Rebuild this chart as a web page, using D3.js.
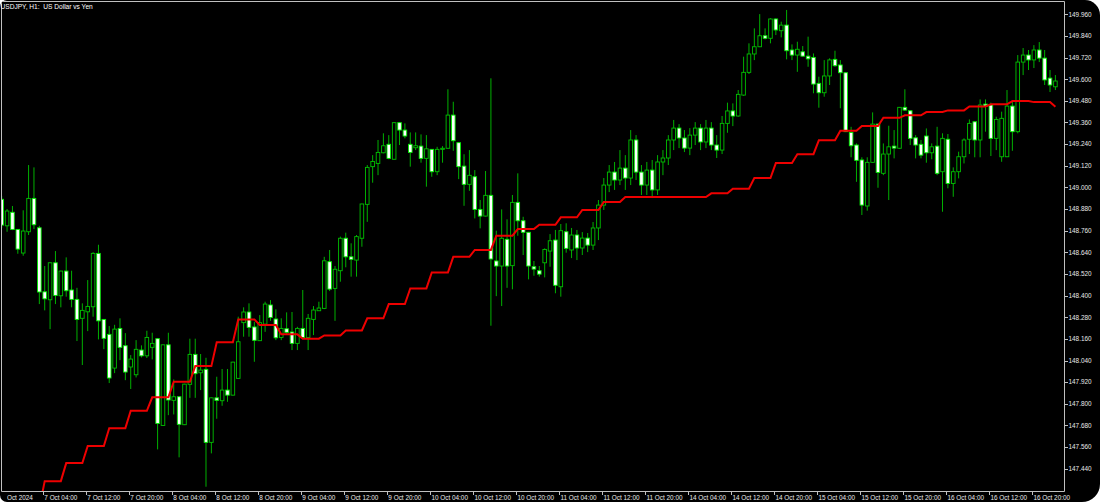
<!DOCTYPE html>
<html><head><meta charset="utf-8">
<script src="https://cdn.jsdelivr.net/npm/d3@7"></script>
<style>html,body{margin:0;padding:0;background:#fff;}svg{display:block}</style>
</head><body>
<svg id="c" width="1100" height="502"></svg>
<script>
// ---- data (USDJPY H1), bar 0 = 4 Oct 20:00 ----
const openP = [
148.934,148.787,148.862,148.767,148.636,148.754,148.939,148.776,148.421,148.377,
148.582,148.399,148.536,148.431,148.379,148.274,148.310,148.338,148.634,148.268,
148.185,147.998,148.218,148.122,148.004,147.961,148.098,148.066,148.113,148.161,
147.680,148.127,147.819,147.839,147.684,147.908,148.074,147.972,147.991,147.586,
147.833,147.817,147.876,147.848,147.941,148.250,148.309,148.226,148.150,148.242,
148.348,148.270,148.168,148.216,148.198,148.135,148.218,148.168,148.268,148.316,
148.329,148.588,148.440,148.538,148.718,148.615,148.597,148.718,148.906,149.115,
149.133,149.192,149.239,149.156,149.359,149.318,149.239,149.220,149.229,149.161,
149.211,149.087,149.211,149.217,149.401,149.248,149.118,149.017,149.059,148.878,
148.841,148.956,148.592,148.564,148.712,148.566,148.917,148.815,148.751,148.560,
148.538,148.582,148.647,148.708,148.449,148.754,148.653,148.736,148.664,148.719,
148.680,148.775,148.902,149.013,149.085,149.041,149.107,149.052,149.263,149.085,
149.013,149.096,148.986,149.141,149.163,149.263,149.329,149.274,149.218,149.290,
149.329,149.252,149.329,149.235,149.207,149.355,149.424,149.396,149.512,149.638,
149.740,149.780,149.841,149.827,149.934,149.869,149.900,149.762,149.734,149.752,
149.728,149.721,149.577,149.525,149.618,149.710,149.679,149.636,149.305,149.235,
149.152,148.897,149.139,149.351,149.078,149.185,149.229,149.217,149.444,149.425,
149.275,149.239,149.285,149.192,149.229,149.087,149.267,149.022,149.087,149.170,
149.267,149.364,149.263,149.462,149.457,149.272,149.170,149.170,149.451,149.309,
149.695,149.734,149.707,149.762,149.717,149.606,149.558];
const highP = [
148.952,148.880,148.897,148.769,148.873,149.124,149.111,148.787,148.564,148.585,
148.647,148.538,148.612,148.538,148.443,148.357,148.486,148.641,148.682,148.270,
148.231,148.238,148.274,148.192,148.070,148.153,148.124,148.205,148.194,148.163,
148.129,148.194,147.935,147.841,147.911,148.161,148.161,148.076,148.055,147.835,
147.950,147.993,147.993,148.033,148.283,148.335,148.357,148.255,148.292,148.366,
148.375,148.324,148.274,148.307,148.309,148.227,148.431,148.298,148.342,148.366,
148.615,148.653,148.564,148.727,148.749,148.690,148.736,148.910,149.124,149.179,
149.263,149.300,149.290,149.361,149.361,149.355,149.305,149.305,149.294,149.290,
149.213,149.225,149.229,149.544,149.475,149.250,149.184,149.207,149.096,148.930,
149.091,149.605,148.760,148.878,148.823,148.958,149.078,148.837,148.753,148.592,
148.564,148.662,148.741,148.764,148.797,148.801,148.775,148.764,148.752,148.747,
148.808,148.930,149.052,149.124,149.141,149.207,149.179,149.318,149.290,149.124,
149.141,149.152,149.179,149.207,149.290,149.374,149.351,149.318,149.329,149.362,
149.351,149.374,149.362,149.290,149.396,149.470,149.466,149.540,149.725,149.799,
149.882,149.961,149.882,149.938,149.938,149.919,149.984,149.793,149.808,149.784,
149.836,149.743,149.614,149.706,149.716,149.758,149.706,149.638,149.336,149.244,
149.167,149.167,149.416,149.353,149.244,149.342,149.318,149.446,149.544,149.427,
149.290,149.263,149.327,149.244,149.336,149.300,149.296,149.111,149.198,149.272,
149.377,149.366,149.488,149.488,149.470,149.392,149.420,149.540,149.481,149.734,
149.773,149.762,149.789,149.806,149.762,149.651,149.623];
const lowP = [
148.775,148.754,148.763,148.632,148.621,148.736,148.769,148.353,148.318,148.214,
148.353,148.335,148.394,148.335,148.148,148.015,148.203,148.283,148.157,148.103,
147.915,147.970,148.042,147.931,147.882,147.946,148.057,148.054,148.046,147.547,
147.678,147.737,147.741,147.503,147.682,147.833,147.833,147.876,147.340,147.525,
147.717,147.789,147.811,147.846,147.939,148.172,148.172,148.033,148.148,148.199,
148.260,148.153,148.153,148.187,148.098,148.098,148.163,148.098,148.181,148.316,
148.325,148.425,148.260,148.477,148.557,148.505,148.505,148.671,148.809,149.026,
149.068,149.189,149.156,149.154,149.235,149.272,149.115,149.207,149.137,149.004,
149.059,149.068,149.137,149.215,149.203,149.046,148.898,148.981,148.828,148.773,
148.839,148.233,148.397,148.342,148.443,148.435,148.732,148.625,148.490,148.510,
148.505,148.501,148.560,148.413,148.394,148.638,148.608,148.597,148.625,148.641,
148.653,148.708,148.875,148.974,148.986,149.013,148.986,149.013,149.041,148.958,
148.958,148.941,148.958,149.068,149.124,149.207,149.218,149.196,149.179,149.235,
149.207,149.218,149.207,149.163,149.185,149.303,149.340,149.392,149.508,149.629,
149.706,149.778,149.821,149.799,149.845,149.832,149.710,149.706,149.641,149.725,
149.669,149.522,149.442,149.503,149.568,149.669,149.439,149.307,149.167,149.031,
148.847,148.871,149.137,148.998,149.068,148.930,149.161,149.215,149.424,149.235,
149.161,149.161,149.137,149.156,149.068,148.865,148.995,148.948,149.050,149.133,
149.185,149.167,149.167,149.309,149.174,149.207,149.142,149.168,149.203,149.300,
149.623,149.651,149.662,149.695,149.568,149.529,149.540];
const closeP = [
148.791,148.869,148.767,148.658,148.758,148.939,148.793,148.420,148.382,148.582,
148.401,148.536,148.427,148.379,148.268,148.318,148.340,148.634,148.260,148.163,
147.943,148.214,148.113,147.976,148.048,148.102,148.066,148.168,148.135,147.691,
148.127,147.821,147.839,147.686,147.909,148.074,147.967,147.987,147.586,147.833,
147.819,147.876,147.848,148.031,148.144,148.309,148.224,148.152,148.250,148.353,
148.279,148.166,148.218,148.196,148.135,148.218,148.168,148.274,148.320,148.331,
148.593,148.436,148.546,148.718,148.615,148.601,148.727,148.908,149.111,149.144,
149.194,149.231,149.161,149.359,149.318,149.285,149.194,149.231,149.161,149.214,
149.087,149.211,149.217,149.401,149.259,149.115,149.017,149.067,148.878,148.841,
148.956,148.603,148.564,148.718,148.564,148.917,148.815,148.751,148.564,148.547,
148.519,148.656,148.704,148.457,148.760,148.662,148.736,148.664,148.719,148.680,
148.775,148.902,149.013,149.085,149.041,149.107,149.052,149.263,149.085,149.013,
149.096,148.986,149.141,149.163,149.263,149.329,149.274,149.218,149.290,149.329,
149.252,149.329,149.235,149.207,149.355,149.424,149.396,149.516,149.638,149.740,
149.780,149.841,149.827,149.934,149.873,149.900,149.758,149.734,149.766,149.728,
149.713,149.573,149.525,149.618,149.707,149.675,149.636,149.309,149.231,149.150,
148.902,149.139,149.351,149.083,149.185,149.225,149.218,149.444,149.429,149.272,
149.235,149.179,149.192,149.225,149.078,149.272,149.022,149.087,149.170,149.263,
149.355,149.263,149.457,149.451,149.272,149.377,149.383,149.451,149.309,149.695,
149.734,149.707,149.762,149.717,149.596,149.568,149.590];
// red indicator line (one value per H1 bar)
const redLine = [
147.155,147.155,147.155,147.155, 147.222,147.222,147.222,147.222,
147.371,147.371,147.371,147.371, 147.471,147.471,147.471,147.471,
147.566,147.566,147.566,147.566, 147.665,147.665,147.665,147.665,
147.761,147.761,147.761,147.761, 147.836,147.836,147.836,147.836,
147.922,147.922,147.922,147.922, 148.009,148.009,148.009,148.009,
148.141,148.141,148.141,148.141, 148.268,148.268,148.268,148.268,
148.237,148.237,148.237,148.237, 148.185,148.185,148.185,148.185,
148.161,148.161,148.161,148.161, 148.179,148.179,148.179,148.179,
148.207,148.207,148.207,148.207, 148.274,148.274,148.274,148.274,
148.353,148.353,148.353,148.353, 148.440,148.440,148.440,148.440,
148.528,148.528,148.528,148.528, 148.615,148.615,148.615,148.615,
148.653,148.653,148.653,148.653, 148.732,148.732,148.732,148.732,
148.769,148.769,148.769,148.769, 148.793,148.793,148.793,148.793,
148.834,148.834,148.834,148.834, 148.875,148.875,148.875,148.875,
148.919,148.919,148.919,148.919, 148.947,148.947,148.947,148.947,
148.947,148.947,148.947,148.947, 148.947,148.947,148.947,148.947,
148.947,148.947,148.947,148.947, 148.967,148.967,148.967,148.967,
148.993,148.993,148.993,148.993, 149.052,149.052,149.052,149.052,
149.135,149.135,149.135,149.135, 149.184,149.184,149.184,149.184,
149.261,149.261,149.261,149.261, 149.314,149.314,149.314,149.314,
149.340,149.340,149.340,149.340, 149.386,149.386,149.386,149.386,
149.400,149.400,149.400,149.400, 149.418,149.418,149.418,149.418,
149.427,149.427,149.427,149.427, 149.449,149.449,149.449,149.449,
149.461,149.461,149.461,149.461, 149.479,149.479,149.479,149.479,
149.473,149.473,149.473,149.473, 149.447];
const yTickValues = [149.960,149.840,149.720,149.600,149.480,149.360,149.240,149.120,149.000,148.880,
  148.760,148.640,148.520,148.400,148.280,148.160,148.040,147.920,147.800,147.680,147.560,147.440];
const xTickLabels = ["4 Oct 2024","7 Oct 04:00","7 Oct 12:00","7 Oct 20:00","8 Oct 04:00","8 Oct 12:00","8 Oct 20:00",
  "9 Oct 04:00","9 Oct 12:00","9 Oct 20:00","10 Oct 04:00","10 Oct 12:00","10 Oct 20:00","11 Oct 04:00",
  "11 Oct 12:00","11 Oct 20:00","14 Oct 04:00","14 Oct 12:00","14 Oct 20:00","15 Oct 04:00","15 Oct 12:00",
  "15 Oct 20:00","16 Oct 04:00","16 Oct 12:00","16 Oct 20:00"];
const xTickBars = [0,8,16,24,32,40,48,56,64,72,80,88,96,104,112,120,128,136,144,152,160,168,176,184,192];
const title = "USDJPY, H1:  US Dollar vs Yen";

// ---- drawing ----
const W = 1100, H = 502;
const plotRight = 1064.5, plotBottom = 491.5;
const svg = d3.select("#c");
const n = openP.length;
const bars = d3.range(n).map(i => ({i, o: openP[i], h: highP[i], l: lowP[i], c: closeP[i]}));
const x = d3.scaleLinear().domain([0, n - 1]).range([1.7, 1.7 + (n - 1) * 5.376]);
const y = d3.scaleLinear().domain([147.440, 149.960]).range([468.7, 14.3]);

const defs = svg.append("defs");
const outerD = "M7,0 H1085 A15,15 0 0 1 1100,15 V484 A18,18 0 0 1 1082,502 H7 A7,7 0 0 1 0,495 V7 A7,7 0 0 1 7,0 Z";
defs.append("clipPath").attr("id", "outer").append("path").attr("d", outerD);
defs.append("clipPath").attr("id", "plot").append("rect")
  .attr("x", 1.5).attr("y", 1.5).attr("width", plotRight - 1.5).attr("height", plotBottom - 1.5);
defs.append("clipPath").attr("id", "xlab").append("rect")
  .attr("x", 6.6).attr("y", 492).attr("width", 1100).attr("height", 12);

const root = svg.append("g").attr("clip-path", "url(#outer)");
root.append("rect").attr("width", W).attr("height", H).attr("fill", "#000");

const plot = root.append("g").attr("clip-path", "url(#plot)");
// wicks
plot.append("g").selectAll("line").data(bars).join("line")
  .attr("x1", d => x(d.i)).attr("x2", d => x(d.i))
  .attr("y1", d => y(d.h)).attr("y2", d => y(d.l))
  .attr("stroke", "#00b000").attr("stroke-width", 1);
// bodies
const bw = 3.6;
plot.append("g").selectAll("rect").data(bars).join("rect")
  .attr("x", d => x(d.i) - bw / 2)
  .attr("y", d => y(Math.max(d.o, d.c)))
  .attr("width", bw)
  .attr("height", d => Math.max(0.8, Math.abs(y(d.o) - y(d.c))))
  .attr("fill", d => d.c < d.o ? "#ffffff" : "#000000")
  .attr("stroke", d => d.c < d.o ? "#00ee00" : "#00c000")
  .attr("stroke-width", 0.9);
// red line
plot.append("path").datum(redLine)
  .attr("d", d3.line().x((d, i) => x(i)).y(d => y(d)))
  .attr("fill", "none").attr("stroke", "#ee0000").attr("stroke-width", 2);

// frame
const frameCol = "#c0c0c0";
root.append("path")
  .attr("d", `M1.5,${plotBottom} V1.5 H${plotRight} V${plotBottom} H1.5`)
  .attr("fill", "none").attr("stroke", frameCol).attr("stroke-width", 1);

const font = "'Liberation Sans', Arial, sans-serif";
// y axis
const ya = root.append("g");
ya.selectAll("line").data(yTickValues).join("line")
  .attr("x1", plotRight).attr("x2", plotRight + 3.5)
  .attr("y1", d => Math.round(y(d)) + 0.5).attr("y2", d => Math.round(y(d)) + 0.5)
  .attr("stroke", frameCol);
ya.selectAll("text").data(yTickValues).join("text")
  .attr("x", plotRight + 4).attr("y", d => y(d) + 2.3)
  .attr("fill", "#e8e8e8").attr("font-family", font).attr("font-size", 6.4)
  .text(d => d3.format(".3f")(d));
// x axis
const xa = root.append("g");
xa.selectAll("line").data(xTickBars.slice(1)).join("line")
  .attr("x1", d => Math.round(x(d) - 1.4) + 0.5).attr("x2", d => Math.round(x(d) - 1.4) + 0.5)
  .attr("y1", plotBottom).attr("y2", plotBottom + 3.5)
  .attr("stroke", frameCol);
xa.append("g").attr("clip-path", "url(#xlab)")
  .selectAll("text").data(xTickLabels).join("text")
  .attr("x", (d, k) => x(xTickBars[k]) - 0.4 + (k === 0 ? 0.3 : 0))
  .attr("y", 499.6)
  .attr("fill", "#e8e8e8").attr("font-family", font).attr("font-size", 6.4)
  .text(d => d);
// title
root.append("text").attr("x", 0.5).attr("y", 8.8)
  .attr("fill", "#ffffff").attr("font-family", font).attr("font-size", 6.6)
  .style("white-space", "pre").attr("xml:space", "preserve")
  .text(title);
</script>
</body></html>
